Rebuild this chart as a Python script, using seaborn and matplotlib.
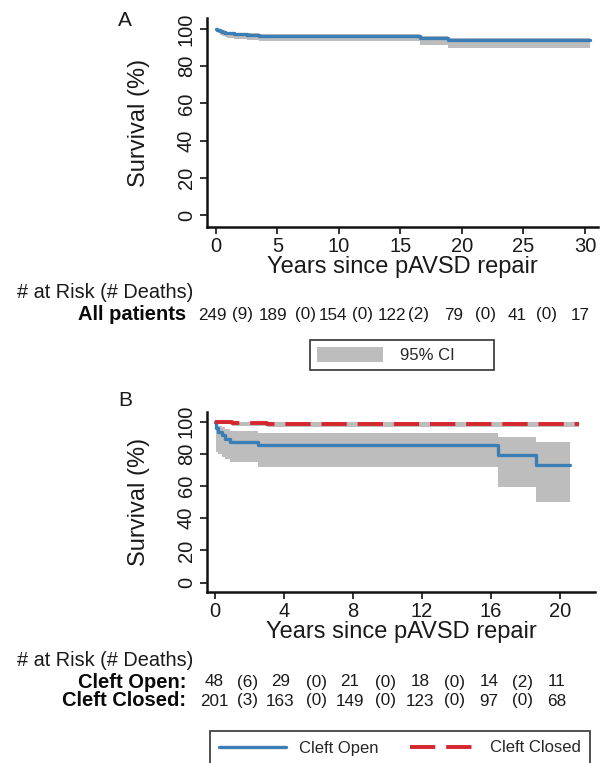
import numpy as np
import pandas as pd
import matplotlib
matplotlib.use("Agg")
import matplotlib.pyplot as plt
import matplotlib.transforms as mtransforms
from matplotlib.patches import Patch
from matplotlib.lines import Line2D
import seaborn as sns

# ---------------- data ----------------
# Panel A: all patients
a_time = [0, 0.1, 0.2, 0.35, 0.5, 0.7, 0.9, 1.5, 2.5, 3.5, 16.6, 18.9, 30.4]
a_surv = [100, 99.6, 99.2, 98.8, 98.4, 98.0, 97.6, 97.2, 96.8, 96.4, 95.4, 94.3, 94.3]
a_lo = [100, 98.4, 97.6, 96.8, 96.2, 95.6, 95.0, 94.5, 93.9, 93.4, 91.5, 90.0, 90.0]
a_hi = [100, 100, 99.8, 99.5, 99.2, 98.9, 98.5, 98.1, 97.7, 97.2, 96.3, 95.2, 95.2]

# Panel B: cleft open
o_time = [0, 0.05, 0.15, 0.4, 0.6, 0.9, 2.5, 16.4, 18.6, 20.6]
o_surv = [100, 95.8, 93.7, 91.6, 89.5, 87.4, 85.3, 79.3, 73.2, 73.2]
o_lo = [100, 81.4, 80.0, 78.3, 76.5, 75.2, 71.6, 59.2, 50.3, 50.3]
o_hi = [100, 98.5, 97.5, 96.5, 95.3, 94.2, 92.7, 90.3, 87.2, 87.2]

# Panel B: cleft closed
c_time = [0, 0.3, 1.0, 3.0, 21.1]
c_surv = [100, 99.5, 99.0, 98.5, 98.5]
c_lo = [100, 98.5, 97.6, 96.8, 96.8]
c_hi = [100, 100, 99.8, 99.5, 99.5]

# risk tables
a_ticks = [0, 5, 10, 15, 20, 25, 30]
a_risk = ["249", "189", "154", "122", "79", "41", "17"]
a_deaths = ["(9)", "(0)", "(0)", "(2)", "(0)", "(0)"]

b_ticks = [0, 4, 8, 12, 16, 20]
open_risk = ["48", "29", "21", "18", "14", "11"]
open_deaths = ["(6)", "(0)", "(0)", "(0)", "(2)"]
closed_risk = ["201", "163", "149", "123", "97", "68"]
closed_deaths = ["(3)", "(0)", "(0)", "(0)", "(0)"]
y_ticks = [0, 20, 40, 60, 80, 100]

# layout: column centres of the risk tables (in years on each panel's x scale)
a_risk_x = [-0.3, 4.63, 9.55, 14.3, 19.3, 24.5, 29.6]
a_death_x = [2.12, 7.3, 11.95, 16.5, 21.9, 26.9]
b_risk_x = [-0.05, 3.8, 7.8, 11.9, 15.9, 19.8]
b_death_x = [1.9, 5.9, 9.9, 13.9, 17.8]

BLUE = "#3b7db5"
RED = "#d6262d"
GRAY = "#bdbdbd"
TXT = "#1a1a1a"

# ---------------- style ----------------
sns.set_style("ticks")
plt.rcParams["font.family"] = ["Liberation Sans", "DejaVu Sans"]
plt.rcParams["axes.linewidth"] = 1.8

W, H = 600, 763
fig = plt.figure(figsize=(W / 100, H / 100), dpi=100)


def fx(px):
    return px / W


def fy(py):
    return 1 - py / H


def make_axes(left, right, top, bottom):
    return fig.add_axes([fx(left), fy(bottom), fx(right - left), (bottom - top) / H])


def style_axes(ax, xticks):
    sns.despine(ax=ax)
    ax.set_xticks(xticks)
    ax.set_yticks(y_ticks)
    ax.tick_params(axis="both", labelsize=14.5, length=5, width=1.2, colors="#111111",
                   labelcolor=TXT)
    ax.tick_params(axis="y", labelrotation=90, pad=3)
    ax.tick_params(axis="x", pad=2)
    for lab in ax.get_yticklabels():
        lab.set_va("center")
    ax.set_ylabel("Survival (%)", fontsize=17, color=TXT, labelpad=19)
    ax.set_xlabel("Years since pAVSD repair", fontsize=17, color=TXT, labelpad=0)
    ax.spines["left"].set_color("#111111")
    ax.spines["bottom"].set_color("#111111")


def risk_text(x, y, s, tr):
    fig.text(x, y, s, transform=tr, fontsize=12.3, color=TXT,
             ha="center", va="center")


# ---------------- panel A ----------------
axA = make_axes(207, 598, 18, 227)
axA.fill_between(a_time, a_lo, a_hi, step="post", color=GRAY, lw=0)
sns.lineplot(x=a_time, y=a_surv, estimator=None, drawstyle="steps-post",
             color=BLUE, lw=2.4, ax=axA)
axA.set_xlim(-0.73, 31.06)
axA.set_ylim(-6.45, 105.9)
style_axes(axA, a_ticks)
fig.text(fx(125), fy(20), "A", fontsize=15, color=TXT, ha="center", va="center")

# risk table A
fig.text(fx(17), fy(293), "# at Risk (# Deaths)", fontsize=14.3, color=TXT,
         ha="left", va="center")
fig.text(fx(186), fy(315), "All patients", fontsize=14.5, fontweight="bold",
         color="#0a0a0a", ha="right", va="center")
trA = mtransforms.blended_transform_factory(axA.transData, fig.transFigure)
for x, s in zip(a_risk_x, a_risk):
    risk_text(x, fy(315), s, trA)
for x, s in zip(a_death_x, a_deaths):
    risk_text(x, fy(315), s, trA)

legA = fig.legend(handles=[Patch(facecolor=GRAY, edgecolor="none")], labels=["95% CI"],
                  loc="center left", bbox_to_anchor=(fx(310), fy(355)),
                  frameon=True, fancybox=False, edgecolor="#333333", framealpha=1,
                  fontsize=12, handlelength=4.0, handleheight=1.0, handletextpad=1.0,
                  borderpad=0.4, borderaxespad=0)
legA.get_frame().set_linewidth(1.2)
legA.get_texts()[0].set_text("95% CI       ")

# ---------------- panel B ----------------
axB = make_axes(207, 595, 412, 592)
axB.fill_between(o_time, o_lo, o_hi, step="post", color=GRAY, lw=0)
axB.fill_between(c_time, c_lo, c_hi, step="post", color=GRAY, lw=0)
sns.lineplot(x=o_time, y=o_surv, estimator=None, drawstyle="steps-post",
             color=BLUE, lw=2.4, ax=axB)
sns.lineplot(x=c_time, y=c_surv, estimator=None, drawstyle="steps-post",
             color=RED, lw=2.8, linestyle=(0, (6.5, 2.8)), ax=axB)
axB.set_xlim(-0.46, 22.03)
axB.set_ylim(-5.8, 106.0)
style_axes(axB, b_ticks)
fig.text(fx(125), fy(400), "B", fontsize=15, color=TXT, ha="center", va="center")

fig.text(fx(17), fy(660), "# at Risk (# Deaths)", fontsize=14.3, color=TXT,
         ha="left", va="center")
fig.text(fx(186), fy(682), "Cleft Open:", fontsize=14.5, fontweight="bold",
         color="#0a0a0a", ha="right", va="center")
fig.text(fx(186), fy(701), "Cleft Closed:", fontsize=14.5, fontweight="bold",
         color="#0a0a0a", ha="right", va="center")
trB = mtransforms.blended_transform_factory(axB.transData, fig.transFigure)
for row_y, risk, deaths in [(682, open_risk, open_deaths), (701, closed_risk, closed_deaths)]:
    for x, s in zip(b_risk_x, risk):
        risk_text(x, fy(row_y), s, trB)
    for x, s in zip(b_death_x, deaths):
        risk_text(x, fy(row_y), s, trB)

legB = fig.legend(handles=[Line2D([], [], color=BLUE, lw=2.4),
                           Line2D([], [], color=RED, lw=2.8, linestyle=(0, (6.5, 2.8)))],
                  labels=["Cleft Open", "Cleft Closed"], ncol=2,
                  loc="center left", bbox_to_anchor=(fx(210), fy(748)),
                  frameon=True, fancybox=False, edgecolor="#333333", framealpha=1,
                  fontsize=12, handlelength=4.0, handletextpad=0.8, columnspacing=1.9,
                  borderpad=0.55, borderaxespad=0)
legB.get_frame().set_linewidth(1.2)

fig.savefig("out.png", dpi=100)
